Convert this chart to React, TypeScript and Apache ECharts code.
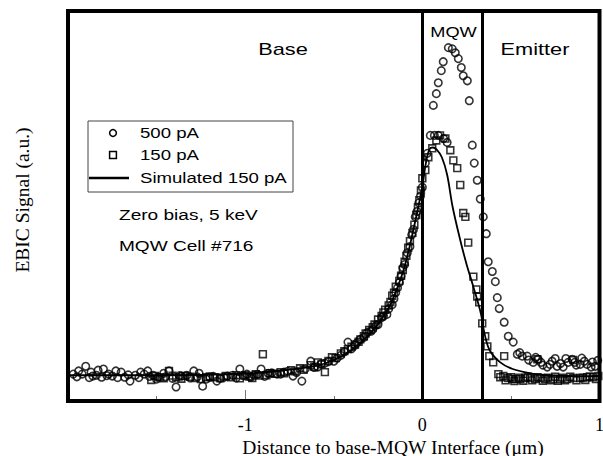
import React, { useEffect, useRef } from 'react';
import * as echarts from 'echarts';

// Distance to base-MQW interface (µm) vs EBIC signal (arbitrary units, 0-100)
const signal500pA: [number, number][] = [
  [-1.97, 6.9], [-1.94, 7.7], [-1.9, 8.9], [-1.87, 7.4], [-1.86, 6.4], [-1.83, 7.9], [-1.8, 8.2], [-1.77, 6.9],
  [-1.75, 6.4], [-1.73, 7.7], [-1.7, 7.4], [-1.68, 6.1], [-1.65, 5.1], [-1.62, 6.6], [-1.59, 7.4], [-1.57, 6.9],
  [-1.55, 7.7], [-1.52, 6.6], [-1.49, 6.1], [-1.46, 7.1], [-1.43, 7.7], [-1.39, 3.6], [-1.36, 6.4], [-1.33, 6.6],
  [-1.29, 7.7], [-1.26, 7.1], [-1.24, 3.8], [-1.2, 6.1], [-1.16, 5.1], [-1.12, 6.1], [-1.07, 6.6], [-1.03, 8.2],
  [-0.99, 6.9], [-0.95, 6.6], [-0.91, 8.2], [-0.87, 7.1], [-0.82, 6.9], [-0.78, 7.4], [-0.73, 6.4], [-0.68, 5.1],
  [-0.63, 10.2], [-0.59, 8.7], [-0.55, 9.7], [-0.5, 10.2], [-0.46, 11.7], [-0.42, 15.1], [-0.38, 14.3], [-0.35, 15.8],
  [-0.31, 17.6], [-0.28, 18.4], [-0.25, 19.6], [-0.23, 21.4], [-0.2, 22.2], [-0.17, 24.7], [-0.15, 27.8], [-0.13, 30.4],
  [-0.11, 34.2], [-0.085, 38.0], [-0.06, 42.6], [-0.04, 47.2], [-0.02, 50.8], [0.0, 54.8], [0.017, 61.0], [0.028, 63.5],
  [-1.95, 6.2], [-1.92, 6.9], [-1.88, 6.0], [-1.84, 6.6], [-1.81, 6.1], [-1.78, 6.5], [-1.72, 6.0], [-1.66, 6.7],
  [-1.6, 6.0], [-1.54, 6.3], [-1.5, 5.6], [-1.45, 6.2], [-1.41, 5.8], [-1.37, 6.5], [-1.31, 5.9], [-1.27, 6.2],
  [-1.22, 5.6], [-1.18, 6.3], [-1.14, 5.8], [-1.1, 6.4], [-1.05, 5.9], [-1.01, 6.5], [-0.97, 6.1], [-0.93, 6.8],
  [-0.89, 6.3], [-0.85, 7.2], [-0.8, 6.9], [-0.76, 7.6], [-0.71, 7.3], [-0.66, 8.3], [-0.61, 8.6], [-0.57, 9.6],
  [-0.53, 10.1], [-0.48, 11.0], [-0.44, 12.6], [-0.4, 13.4], [-0.37, 14.9], [-0.33, 16.3], [-0.29, 17.9], [-0.26, 19.5],
  [-0.22, 21.7], [-0.19, 23.6], [-0.16, 26.2], [-0.14, 29.0], [-0.12, 32.0], [-0.1, 35.0], [-0.07, 39.6], [-0.05, 44.0],
  [-0.03, 48.6], [-0.01, 52.6],
  [0.045, 68.1], [0.068, 68.1], [0.09, 68.1], [0.12, 67.3], [0.14, 66.3],
  [0.062, 75.8], [0.079, 78.8], [0.09, 81.6], [0.107, 84.7], [0.118, 87.0], [0.147, 90.6], [0.169, 90.3], [0.186, 89.3],
  [0.203, 87.8], [0.22, 85.5], [0.231, 83.4], [0.254, 82.1], [0.265, 77.0], [0.282, 65.6], [0.293, 61.0], [0.31, 56.6],
  [0.327, 51.8], [0.344, 47.2], [0.361, 42.9], [0.372, 35.7], [0.395, 33.2], [0.412, 30.6], [0.423, 26.5], [0.434, 23.7],
  [0.462, 20.2], [0.485, 16.6], [0.513, 15.1], [0.536, 12.0], [0.564, 11.5], [0.592, 11.5], [0.626, 9.9], [0.654, 10.7],
  [0.68, 9.2], [0.705, 8.7], [0.733, 10.2], [0.761, 8.9], [0.795, 8.7], [0.823, 9.9], [0.846, 10.7], [0.869, 9.2],
  [0.891, 9.4], [0.914, 10.2], [0.93, 9.4], [0.953, 8.7], [0.976, 8.9],
  [0.55, 12.4], [0.6, 10.5], [0.64, 11.2], [0.67, 9.9], [0.72, 9.4], [0.75, 10.9], [0.78, 9.6], [0.81, 10.9],
  [0.86, 9.9], [0.9, 11.0], [0.96, 10.0], [0.99, 10.4],
];

const signal150pA: [number, number][] = [
  [-1.53, 5.4], [-1.48, 6.1], [-1.43, 7.7], [-1.39, 6.1], [-1.34, 6.4], [-1.28, 5.9], [-1.22, 6.1], [-1.17, 6.1],
  [-1.11, 6.4], [-1.05, 6.6], [-1.0, 6.6], [-0.94, 6.9], [-0.9, 12.0], [-0.86, 7.1], [-0.8, 7.4], [-0.74, 7.9],
  [-0.69, 8.4], [-0.63, 9.2], [-0.59, 9.9], [-0.55, 7.4], [-0.51, 11.2], [-0.46, 12.2], [-0.42, 13.3], [-0.38, 14.5],
  [-0.35, 15.8], [-0.32, 17.3], [-0.28, 18.9], [-0.25, 20.9], [-0.22, 22.7], [-0.19, 24.5], [-0.17, 27.0], [-0.15, 29.3],
  [-0.12, 32.1], [-0.1, 35.7], [-0.08, 39.3], [-0.056, 43.1], [-0.034, 47.7], [-0.017, 51.5], [0.0, 57.1], [0.017, 59.2],
  [-1.51, 6.4], [-1.46, 5.8], [-1.41, 6.5], [-1.36, 5.7], [-1.31, 6.2], [-1.25, 5.6], [-1.2, 6.3], [-1.14, 5.8],
  [-1.08, 6.1], [-1.03, 5.8], [-0.98, 6.3], [-0.96, 5.9], [-0.92, 6.5], [-0.88, 6.6], [-0.83, 7.0], [-0.78, 7.1],
  [-0.72, 7.6], [-0.67, 8.0], [-0.61, 8.8], [-0.57, 9.4], [-0.53, 10.3], [-0.49, 11.0], [-0.44, 12.8], [-0.4, 13.9],
  [-0.36, 15.2], [-0.33, 16.6], [-0.3, 18.2], [-0.27, 19.6], [-0.23, 21.8], [-0.21, 23.4], [-0.18, 25.4], [-0.16, 27.8],
  [-0.13, 30.8], [-0.11, 33.6], [-0.09, 37.2], [-0.07, 41.0], [-0.045, 45.2], [-0.025, 49.6], [-0.008, 54.0],
  [0.034, 62.5], [0.056, 64.8], [0.079, 66.8], [0.1, 68.1], [0.13, 67.3], [0.158, 64.3], [0.175, 61.7], [0.197, 59.7],
  [0.214, 55.4], [0.231, 48.2], [0.243, 47.2], [0.259, 40.6], [0.288, 31.9], [0.305, 28.6], [0.31, 26.8], [0.321, 25.3],
  [0.338, 19.9], [0.355, 16.6], [0.367, 14.0], [0.378, 11.5], [0.4, 9.9], [0.429, 6.9], [0.457, 6.4], [0.462, 11.5],
  [0.485, 5.9], [0.508, 5.6], [0.53, 5.6], [0.553, 5.6], [0.58, 5.9], [0.609, 5.9], [0.637, 5.6], [0.649, 10.7],
  [0.666, 5.9], [0.694, 5.6], [0.739, 5.6], [0.778, 5.6], [0.818, 5.6], [0.852, 5.9], [0.852, 10.5], [0.891, 5.9],
  [0.93, 6.1], [0.964, 6.1], [0.993, 6.4],
  [0.44, 6.1], [0.47, 5.3], [0.5, 6.1], [0.52, 5.1], [0.545, 6.0], [0.57, 5.2], [0.595, 6.2], [0.62, 5.3],
  [0.65, 6.1], [0.68, 5.2], [0.71, 6.0], [0.725, 5.3], [0.75, 6.2], [0.765, 5.2], [0.79, 6.0], [0.805, 5.3],
  [0.835, 6.2], [0.87, 5.3], [0.905, 6.0], [0.92, 5.4], [0.945, 6.3], [0.98, 5.6],
];

const simulated150pA: [number, number][] = [
  [-2.0, 6.6], [-1.5, 6.6], [-1.0, 7.0], [-0.8, 7.8], [-0.6, 9.0], [-0.5, 10.5], [-0.4, 13.0], [-0.3, 17.0],
  [-0.2, 23.0], [-0.15, 28.0], [-0.1, 34.5], [-0.05, 44.0], [0.0, 55.0], [0.02, 61.0], [0.04, 64.5], [0.06, 65.0],
  [0.08, 64.5], [0.11, 62.5], [0.14, 58.0], [0.17, 50.0], [0.21, 42.0], [0.25, 35.0], [0.29, 29.0], [0.33, 22.5],
  [0.35, 17.5], [0.38, 13.0], [0.44, 9.9], [0.51, 8.2], [0.61, 7.1], [0.7, 6.6], [0.89, 6.4], [1.0, 6.4],
];

const regionBoundaries = [0, 0.335];
const xTickValues = [-1, 0, 1];
const xTickLabels = ['-1', '0', '1'];
const legendNames = ['500 pA', '150 pA', 'Simulated 150 pA'];
const noteLines = ['Zero bias, 5 keV', 'MQW Cell #716'];
const regionNames = ['Base', 'MQW', 'Emitter'];
const xAxisTitle = 'Distance to base-MQW Interface (μm)';
const yAxisTitle = 'EBIC Signal (a.u.)';

const SANS = '"Liberation Sans", Arial, sans-serif';
const SERIF = '"Liberation Serif", "Times New Roman", serif';

function txt(text: string, x: number, y: number, size: number, family: string, align: string, scaleX = 1, rotation = 0) {
  return {
    type: 'text',
    x,
    y,
    scaleX,
    rotation,
    silent: true,
    z: 100,
    style: {
      text,
      font: `${size}px ${family}`,
      fill: '#000',
      align,
      verticalAlign: 'middle',
      textAlign: align,
      textVerticalAlign: 'middle',
    },
  };
}

export default function App() {
  const ref = useRef<HTMLDivElement>(null);
  useEffect(() => {
    const chart = echarts.init(ref.current!, null, { renderer: 'svg' });
    const markerStyle = { color: 'rgba(0,0,0,0)', borderColor: '#000', borderWidth: 1.6 };
    chart.setOption({
      animation: false,
      backgroundColor: '#fff',
      grid: {
        left: 68,
        right: 3.5,
        top: 11,
        bottom: 55,
        containLabel: false,
        outerBoundsMode: 'none',
        show: true,
        borderColor: '#000',
        borderWidth: 4,
        backgroundColor: 'rgba(0,0,0,0)',
        z: 10,
      },
      xAxis: {
        type: 'value',
        min: -2,
        max: 1,
        interval: 1,
        axisLine: { show: false },
        axisTick: { show: true, inside: true, length: 11, lineStyle: { color: '#777', width: 1 } },
        minorTick: { show: true, splitNumber: 2, length: 5, lineStyle: { color: '#777', width: 1 } },
        splitLine: { show: false },
        minorSplitLine: { show: false },
        axisLabel: {
          margin: 15,
          fontFamily: SERIF,
          fontSize: 18,
          color: '#000',
          showMinLabel: true,
          showMaxLabel: true,
          formatter: (v: number) => {
            const i = xTickValues.findIndex((t) => Math.abs(t - v) < 1e-9);
            return i >= 0 ? xTickLabels[i] : '';
          },
        },
      },
      yAxis: {
        type: 'value',
        min: 0,
        max: 100,
        axisLine: { show: false },
        axisTick: { show: false },
        axisLabel: { show: false },
        splitLine: { show: false },
      },
      series: [
        {
          type: 'scatter',
          name: legendNames[0],
          data: signal500pA,
          symbol: 'circle',
          symbolSize: 7.5,
          itemStyle: markerStyle,
          silent: true,
        },
        {
          type: 'scatter',
          name: legendNames[1],
          data: signal150pA,
          symbol: 'rect',
          symbolSize: 6.8,
          itemStyle: markerStyle,
          silent: true,
        },
        {
          type: 'line',
          name: legendNames[2],
          data: simulated150pA,
          smooth: 0.35,
          showSymbol: false,
          symbol: 'none',
          lineStyle: { color: '#000', width: 1.8 },
          silent: true,
          markLine: {
            silent: true,
            symbol: ['none', 'none'],
            label: { show: false },
            lineStyle: { color: '#000', width: 3, type: 'solid' },
            data: regionBoundaries.map((b) => ({ xAxis: b })),
          },
        },
      ],
      graphic: [
        txt(regionNames[0], 283, 49, 17, SANS, 'center', 1.28),
        txt(regionNames[1], 453.5, 32, 14, SANS, 'center', 1.3),
        txt(regionNames[2], 535, 49, 17, SANS, 'center', 1.28),
        {
          type: 'rect',
          silent: true,
          z: 90,
          shape: { x: 88, y: 121, width: 205, height: 71 },
          style: { fill: '#fff', stroke: '#444', lineWidth: 1 },
        },
        {
          type: 'circle',
          silent: true,
          z: 100,
          shape: { cx: 113, cy: 133, r: 3.4 },
          style: { fill: 'none', stroke: '#000', lineWidth: 1.5 },
        },
        {
          type: 'rect',
          silent: true,
          z: 100,
          shape: { x: 109.6, y: 151.6, width: 6.8, height: 6.8 },
          style: { fill: 'none', stroke: '#000', lineWidth: 1.5 },
        },
        {
          type: 'line',
          silent: true,
          z: 100,
          shape: { x1: 89, y1: 178, x2: 129, y2: 178 },
          style: { stroke: '#000', lineWidth: 2.5 },
        },
        txt(legendNames[0], 140, 133, 15.5, SANS, 'left', 1.2),
        txt(legendNames[1], 140, 155, 15.5, SANS, 'left', 1.2),
        txt(legendNames[2], 140, 178, 15.5, SANS, 'left', 1.2),
        txt(noteLines[0], 119, 215, 15.5, SANS, 'left', 1.23),
        txt(noteLines[1], 119, 246, 15.5, SANS, 'left', 1.23),
        txt(xAxisTitle, 393, 447, 19.5, SERIF, 'center'),
        txt(yAxisTitle, 22, 200, 19.5, SERIF, 'center', 1, Math.PI / 2),
      ],
    });
    return () => chart.dispose();
  }, []);
  return (
    <div
      ref={ref}
      style={{ position: 'absolute', left: 0, top: 0, width: 603, height: 456, background: '#fff' }}
    />
  );
}
